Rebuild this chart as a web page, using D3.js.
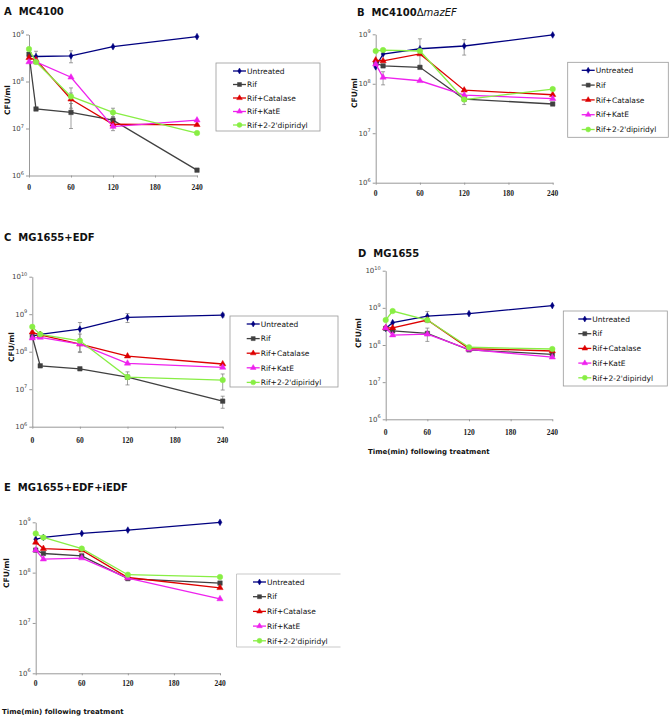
<!DOCTYPE html>
<html><head><meta charset="utf-8">
<script src="https://cdn.jsdelivr.net/npm/d3@7"></script>
<style>body{margin:0;background:#fff}svg{display:block}text{white-space:pre}</style>
</head><body>
<svg id="chart" width="669" height="717"></svg>
<script>
// ---------- DATA ----------
const times = [0, 10, 60, 120, 240];
const xTicks = [0, 60, 120, 180, 240];
const seriesNames = ["Untreated", "Rif", "Rif+Catalase", "Rif+KatE", "Rif+2-2'dipiridyl"];
const seriesColors = ["#000080", "#404040", "#dd0000", "#ee22ee", "#88ee44"];
const seriesSymbols = ["diamond", "square", "triangle", "triangle", "circle"];

const titleA = "MC4100";
const valuesA = [
  [3.5e8, 3.4e8, 3.5e8, 5.5e8, 9.0e8],
  [3.8e8, 2.6e7, 2.2e7, 1.5e7, 1.3e6],
  [3.2e8, 2.9e8, 4.2e7, 1.23e7, 1.2e7],
  [2.6e8, 2.6e8, 1.23e8, 1.1e7, 1.5e7],
  [4.9e8, 2.6e8, 4.8e7, 2.2e7, 8.0e6]
];
const errorsA = [
  [0, 1e8, 1e8, 0, 0],
  [0, 0, 1.2e7, 3e6, 0],
  [0, 0, 1.5e7, 0, 0],
  [0, 0, 0, 2e6, 0],
  [0, 0, 2.5e7, 5e6, 0]
];

const titleB = "MC4100";
const valuesB = [
  [2.2e8, 4.0e8, 5.1e8, 5.8e8, 9.7e8],
  [2.6e8, 2.3e8, 2.15e8, 4.9e7, 3.9e7],
  [3.0e8, 2.9e8, 4.0e8, 7.4e7, 6.0e7],
  [2.5e8, 1.35e8, 1.15e8, 5.9e7, 5.0e7],
  [4.6e8, 4.8e8, 4.6e8, 4.8e7, 7.8e7]
];
const errorsB = [
  [0, 0, 3e8, 2e8, 0],
  [0, 0, 0, 0, 0],
  [0, 0, 0, 0, 0],
  [0, 4e7, 0, 0, 0],
  [0, 0, 0, 1e7, 0]
];

const titleC = "MG1655+EDF";
const valuesC = [
  [2.6e8, 2.9e8, 4.0e8, 8.2e8, 9.5e8],
  [2.5e8, 4.2e7, 3.5e7, 2.1e7, 4.8e6],
  [3.3e8, 2.8e8, 1.6e8, 7.6e7, 4.7e7],
  [2.3e8, 2.4e8, 1.6e8, 4.9e7, 3.8e7],
  [4.6e8, 2.9e8, 1.95e8, 2.1e7, 1.75e7]
];
const errorsC = [
  [0, 0, 2e8, 2.2e8, 1e8],
  [0, 0, 0, 8e6, 1.7e6],
  [0, 0, 6e7, 0, 0],
  [0, 0, 0, 0, 0],
  [0, 0, 1e8, 0, 8e6]
];

const titleD = "MG1655";
const valuesD = [
  [2.8e8, 4.0e8, 6.0e8, 7.0e8, 1.15e9],
  [2.8e8, 2.4e8, 2.05e8, 7.4e7, 5.6e7],
  [2.9e8, 2.9e8, 4.7e8, 8.0e7, 6.9e7],
  [2.9e8, 1.85e8, 1.95e8, 7.6e7, 4.7e7],
  [4.7e8, 8.2e8, 4.7e8, 8.7e7, 7.8e7]
];
const errorsD = [
  [0, 0, 2e8, 0, 0],
  [0, 0, 8e7, 0, 0],
  [0, 0, 0, 0, 0],
  [0, 0, 0, 0, 0],
  [0, 0, 0, 0, 0]
];

const titleE = "MG1655+EDF+iEDF";
const valuesE = [
  [4.6e8, 5.0e8, 6.0e8, 7.0e8, 1.0e9],
  [2.8e8, 2.4e8, 2.15e8, 7.6e7, 6.2e7],
  [4.0e8, 3.0e8, 2.8e8, 8.0e7, 5.0e7],
  [2.8e8, 1.85e8, 1.95e8, 7.8e7, 3.0e7],
  [6.0e8, 5.0e8, 3.0e8, 9.1e7, 8.2e7]
];
const errorsE = [
  [0, 0, 0, 0, 0],
  [0, 0, 0, 0, 0],
  [0, 0, 0, 0, 0],
  [0, 0, 0, 0, 0],
  [0, 0, 0, 0, 0]
];

const xAxisTitle = "Time(min) following treatment";
const yAxisTitle = "CFU/ml";

// ---------- LAYOUT ----------
const svg = d3.select("#chart");
const FONT = "DejaVu Sans, Verdana, sans-serif";

const panels = [
  {letter:"A", title:titleA, italic:"", values:valuesA, errors:errorsA, exps:[6,9],
   x0:29, x1:197, yTop:34.5, yBot:175.5, titleX:4, titleY:15, tickY:190,
   yLab:[7, 100], leg:{x:216, y:63, w:104, h:68, lx:233, dy:13.5}},
  {letter:"B", title:titleB, italic:"mazEF", values:valuesB, errors:errorsB, exps:[6,9],
   x0:375.7, x1:552.7, yTop:34.3, yBot:182.7, titleX:357, titleY:16, tickY:196,
   yLab:[354, 93], leg:{x:567.7, y:62.3, w:100.6, h:75, lx:581.7, dy:14.8}},
  {letter:"C", title:titleC, italic:"", values:valuesC, errors:errorsC, exps:[6,10],
   x0:32.3, x1:222.7, yTop:276.7, yBot:426.7, titleX:4, titleY:241, tickY:443,
   yLab:[11, 347], leg:{x:230, y:316, w:108, h:71, lx:246.7, dy:14.6}},
  {letter:"D", title:titleD, italic:"", values:valuesD, errors:errorsD, exps:[6,10],
   x0:385.7, x1:552.3, yTop:270.7, yBot:419.3, titleX:358, titleY:257, tickY:434.5,
   yLab:[358, 333], leg:{x:563.3, y:311, w:104, h:75, lx:578.3, dy:14.7},
   xTitle:[368, 453.5]},
  {letter:"E", title:titleE, italic:"", values:valuesE, errors:errorsE, exps:[6,9],
   x0:35.7, x1:220, yTop:522.3, yBot:673.3, titleX:4, titleY:491, tickY:685.5,
   yLab:[6, 573], leg:{x:236.5, y:574, w:104, h:73, lx:253, dy:14.7, open:true},
   xTitle:[2, 714]}
];

const symMap = {diamond:d3.symbolDiamond, square:d3.symbolSquare, triangle:d3.symbolTriangle, circle:d3.symbolCircle};
const symSize = {diamond:13, square:20, triangle:17, circle:24};

function drawMarker(g, sym, color, cx, cy, scale) {
  g.append("path")
    .attr("d", d3.symbol().type(symMap[sym]).size(symSize[sym] * (scale || 1))())
    .attr("transform", `translate(${cx},${cy})`)
    .attr("fill", color).attr("stroke", color).attr("stroke-width", 0.5);
}

panels.forEach(p => {
  const g = svg.append("g");
  const x = d3.scaleLinear().domain([0, 240]).range([p.x0, p.x1]);
  const y = d3.scaleLog().domain([Math.pow(10, p.exps[0]), Math.pow(10, p.exps[1])]).range([p.yBot, p.yTop]);
  const expTicks = d3.range(p.exps[0], p.exps[1] + 1).map(e => Math.pow(10, e));

  // title
  const t = g.append("text").attr("x", p.titleX).attr("y", p.titleY)
    .attr("font-family", FONT).attr("font-weight", "bold").attr("font-size", 10).attr("fill", "#111");
  t.append("tspan").text(p.letter + "  " + p.title);
  if (p.italic) {
    t.append("tspan").attr("font-weight", "normal").text("Δ");
    t.append("tspan").attr("font-style", "italic").attr("font-weight", "normal").text(p.italic);
  }

  // y axis
  const ya = g.append("g").attr("transform", `translate(${p.x0},0)`)
    .call(d3.axisLeft(y).tickValues(expTicks).tickFormat("").tickSize(3).tickSizeOuter(0));
  ya.select(".domain").attr("stroke", "#999");
  ya.selectAll(".tick line").attr("stroke", "#999");
  expTicks.forEach(v => {
    const e = Math.round(Math.log10(v));
    const lt = g.append("text").attr("x", p.x0 - 5).attr("y", y(v) + 2.5)
      .attr("text-anchor", "end").attr("font-family", FONT).attr("font-size", 7).attr("fill", "#444");
    lt.append("tspan").text("10");
    lt.append("tspan").attr("font-size", 5).attr("dy", -3.5).text(e);
  });

  // x axis
  const xa = g.append("g").attr("transform", `translate(0,${p.yBot})`)
    .call(d3.axisBottom(x).tickValues(xTicks).tickFormat("").tickSize(2).tickSizeOuter(0));
  xa.select(".domain").attr("stroke", "#999");
  xa.selectAll(".tick line").attr("stroke", "#999");
  xTicks.forEach(v => {
    g.append("text").attr("x", x(v)).attr("y", p.tickY).attr("text-anchor", "middle")
      .attr("font-family", "Liberation Serif, serif").attr("font-weight", "bold").attr("font-size", 7.5)
      .attr("fill", "#222").text(v);
  });

  // y title
  g.append("text").attr("transform", `translate(${p.yLab[0] + 3},${p.yLab[1]}) rotate(-90)`)
    .attr("text-anchor", "middle").attr("font-family", FONT).attr("font-weight", "bold")
    .attr("font-size", 7.5).attr("fill", "#111").text(yAxisTitle);

  if (p.xTitle) {
    g.append("text").attr("x", p.xTitle[0]).attr("y", p.xTitle[1])
      .attr("font-family", FONT).attr("font-weight", "bold").attr("font-size", 7)
      .attr("fill", "#111").text(xAxisTitle);
  }

  // error bars
  p.values.forEach((vals, si) => {
    vals.forEach((v, i) => {
      const e = p.errors[si][i];
      if (!e) return;
      const lo = Math.max(v - e, v * 0.2), hi = v + e;
      const cx = x(times[i]);
      g.append("line").attr("x1", cx).attr("x2", cx).attr("y1", y(lo)).attr("y2", y(hi))
        .attr("stroke", "#777").attr("stroke-width", 0.7);
      [lo, hi].forEach(b => g.append("line").attr("x1", cx - 2).attr("x2", cx + 2)
        .attr("y1", y(b)).attr("y2", y(b)).attr("stroke", "#777").attr("stroke-width", 0.7));
    });
  });

  // lines + markers
  const line = d3.line().x((d, i) => x(times[i])).y(d => y(d));
  [0, 1, 2, 3, 4].forEach(si => {
    g.append("path").datum(p.values[si]).attr("d", line)
      .attr("fill", "none").attr("stroke", seriesColors[si]).attr("stroke-width", 1.3);
    p.values[si].forEach((v, i) => drawMarker(g, seriesSymbols[si], seriesColors[si], x(times[i]), y(v)));
  });

  // legend
  const L = p.leg;
  if (L.open) {
    g.append("path").attr("d", `M${L.x + L.w},${L.y} H${L.x} V${L.y + L.h} H${L.x + L.w}`)
      .attr("fill", "none").attr("stroke", "#bbb").attr("stroke-width", 0.8);
  } else {
    g.append("rect").attr("x", L.x).attr("y", L.y).attr("width", L.w).attr("height", L.h)
      .attr("fill", "#fff").attr("stroke", "#999").attr("stroke-width", 0.8);
  }
  seriesNames.forEach((name, si) => {
    const cy = L.y + 8 + si * L.dy;
    g.append("line").attr("x1", L.lx).attr("x2", L.lx + 13).attr("y1", cy).attr("y2", cy)
      .attr("stroke", seriesColors[si]).attr("stroke-width", 1.3);
    drawMarker(g, seriesSymbols[si], seriesColors[si], L.lx + 6.5, cy, 0.8);
    g.append("text").attr("x", L.lx + 14).attr("y", cy + 2.7)
      .attr("font-family", FONT).attr("font-size", 7.5).attr("fill", "#111").text(name);
  });
});
</script>
</body></html>
